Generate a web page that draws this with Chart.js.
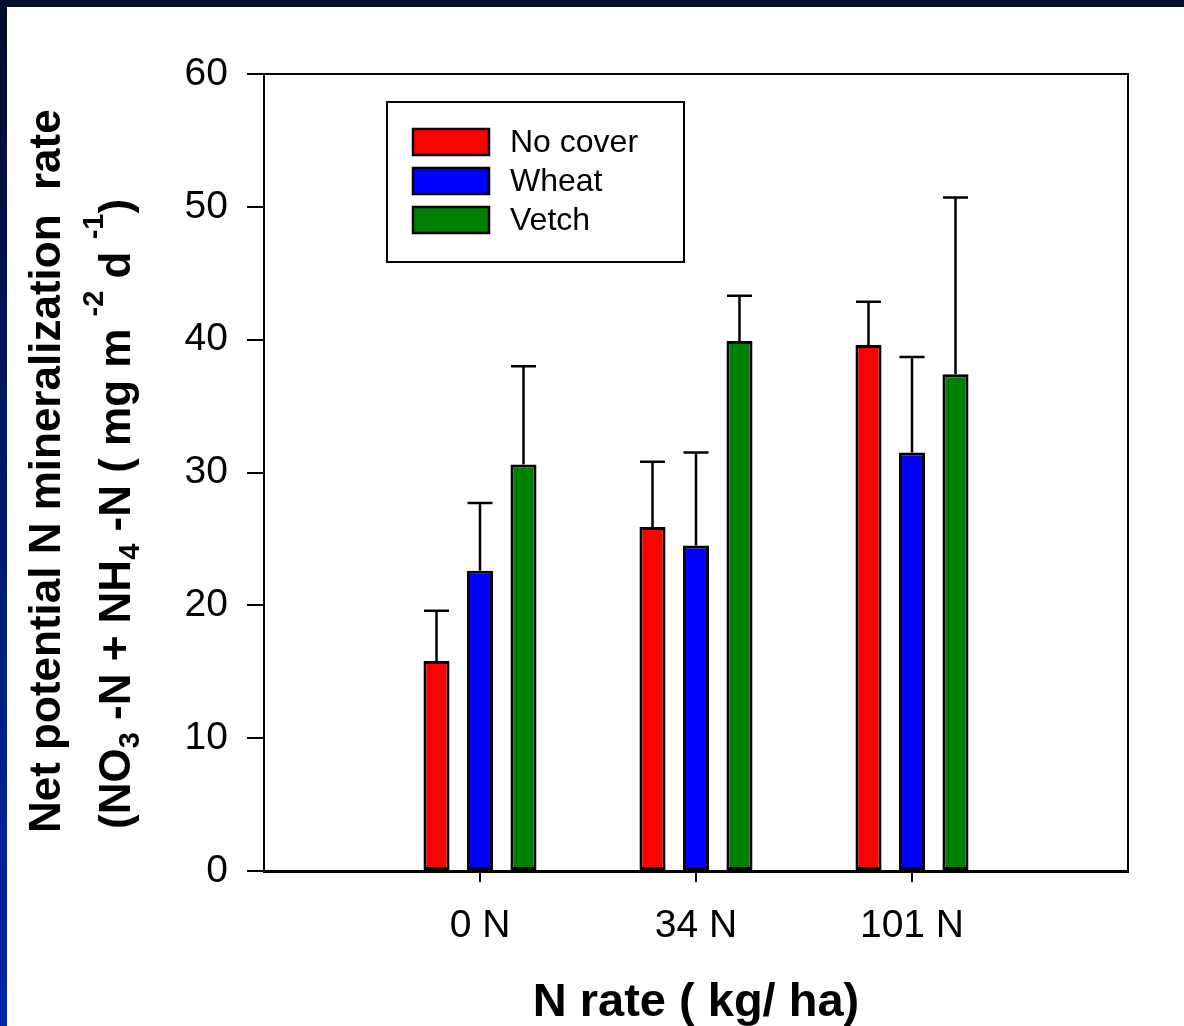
<!DOCTYPE html>
<html><head><meta charset="utf-8">
<script src="https://cdn.jsdelivr.net/npm/chart.js@4.4.1/dist/chart.umd.min.js"></script>
<style>html,body{margin:0;padding:0;background:#fff;overflow:hidden}canvas{display:block}</style>
</head><body>
<canvas id="c" width="1184" height="1026" style="width:1184px;height:1026px"></canvas>
<script>
// ---- data ----
const categories = ['', '0 N', '34 N', '101 N', ''];
const seriesNames = ['No cover', 'Wheat', 'Vetch'];
const noCover    = [null, 15.8, 25.9, 39.6, null];
const wheat      = [null, 22.6, 24.5, 31.5, null];
const vetch      = [null, 30.6, 39.9, 37.4, null];
const noCoverErr = [null, 3.8, 4.9, 3.25, null];
const wheatErr   = [null, 5.1, 7.0, 7.2, null];
const vetchErr   = [null, 7.4, 3.4, 13.3, null];
const yMin = 0, yMax = 60, yStep = 10;
const xTitle = 'N rate ( kg/ ha)';
const yTitleLine1 = 'Net potential N mineralization  rate';
const yTitleLine2 = [['(NO', ''], ['3', 'sub'], [' -N + NH', ''], ['4', 'sub'], [' -N ( mg m ', ''], ['-2', 'sup'], [' d ', ''], ['-1', 'sup'], [')', '']];

const FONT = '"Liberation Sans", Arial, Helvetica, sans-serif';
const colors = ['#ff0000', '#0000ff', '#008000'];

const bgPlugin = {
  id: 'bg',
  beforeDraw(chart) {
    const ctx = chart.ctx;
    ctx.save();
    ctx.fillStyle = '#ffffff';
    ctx.fillRect(0, 0, chart.width, chart.height);
    const g = ctx.createLinearGradient(0, 0, 0, chart.height);
    g.addColorStop(0, '#020c2c');
    g.addColorStop(1, '#0026aa');
    ctx.fillStyle = g;
    ctx.fillRect(0, 0, 7, chart.height);
    ctx.fillStyle = '#010f2b';
    ctx.fillRect(0, 0, chart.width, 7);
    ctx.restore();
  }
};

const framePlugin = {
  id: 'frame',
  afterDraw(chart) {
    const {ctx, chartArea: a} = chart;
    ctx.save();
    ctx.strokeStyle = '#000';
    ctx.lineWidth = 2;
    ctx.beginPath();
    ctx.moveTo(a.left, a.top);
    ctx.lineTo(a.right, a.top);
    ctx.lineTo(a.right, a.bottom);
    ctx.stroke();
    ctx.restore();
  }
};

const errorPlugin = {
  id: 'errbars',
  afterDatasetsDraw(chart) {
    const ctx = chart.ctx;
    const ys = chart.scales.y;
    ctx.save();
    ctx.strokeStyle = '#000';
    ctx.lineWidth = 2.5;
    chart.data.datasets.forEach((ds, i) => {
      const meta = chart.getDatasetMeta(i);
      meta.data.forEach((el, j) => {
        const v = ds.data[j], e = ds.errors[j];
        if (v == null || e == null) return;
        const x = el.x, y0 = el.y, y1 = ys.getPixelForValue(v + e);
        ctx.beginPath();
        ctx.moveTo(x, y0);
        ctx.lineTo(x, y1);
        ctx.moveTo(x - 12.5, y1);
        ctx.lineTo(x + 12.5, y1);
        ctx.stroke();
      });
    });
    ctx.restore();
  }
};

const legendPlugin = {
  id: 'boxlegend',
  afterDraw(chart) {
    const ctx = chart.ctx;
    ctx.save();
    ctx.strokeStyle = '#000';
    ctx.lineWidth = 2;
    ctx.strokeRect(387, 102, 297, 160);
    ctx.font = '32px ' + FONT;
    ctx.textBaseline = 'middle';
    ctx.textAlign = 'left';
    chart.data.datasets.forEach((ds, i) => {
      const y = 128 + 39 * i;
      ctx.fillStyle = ds.backgroundColor;
      ctx.fillRect(412, y, 78, 28);
      ctx.lineWidth = 2.5;
      ctx.strokeRect(413, y + 1, 76, 26);
      ctx.fillStyle = '#000';
      ctx.fillText(ds.label, 510, y + 15);
    });
    ctx.restore();
  }
};

const titlePlugin = {
  id: 'titles',
  afterDraw(chart) {
    const ctx = chart.ctx;
    const a = chart.chartArea;
    ctx.save();
    ctx.fillStyle = '#000';
    // x title
    ctx.font = 'bold 47px ' + FONT;
    ctx.textAlign = 'center';
    ctx.textBaseline = 'alphabetic';
    ctx.fillText(xTitle, (a.left + a.right) / 2, 1016);
    // y title line 1
    ctx.save();
    ctx.translate(60, 833);
    ctx.rotate(-Math.PI / 2);
    ctx.textAlign = 'left';
    ctx.font = 'bold 44px ' + FONT;
    ctx.fillText(yTitleLine1, 0, 0);
    ctx.restore();
    // y title line 2
    ctx.save();
    ctx.translate(130, 829);
    ctx.rotate(-Math.PI / 2);
    ctx.textAlign = 'left';
    let x = 0;
    yTitleLine2.forEach(([t, kind]) => {
      let dy = 0;
      if (kind === 'sub') { ctx.font = 'bold 29px ' + FONT; dy = 9; }
      else if (kind === 'sup') { ctx.font = 'bold 29px ' + FONT; dy = -27; }
      else { ctx.font = 'bold 44px ' + FONT; }
      ctx.fillText(t, x, dy);
      x += ctx.measureText(t).width;
    });
    ctx.restore();
    ctx.restore();
  }
};

const mkDs = (label, data, errors, color) => ({
  label, data, errors,
  backgroundColor: color,
  borderColor: '#000',
  borderWidth: 3,
  borderSkipped: false,
  categoryPercentage: 0.604,
  barPercentage: 0.6
});

new Chart(document.getElementById('c'), {
  type: 'bar',
  data: {
    labels: categories,
    datasets: [
      mkDs(seriesNames[0], noCover, noCoverErr, colors[0]),
      mkDs(seriesNames[1], wheat, wheatErr, colors[1]),
      mkDs(seriesNames[2], vetch, vetchErr, colors[2])
    ]
  },
  options: {
    responsive: false,
    animation: false,
    devicePixelRatio: 1,
    layout: {padding: {top: 74, right: 56, left: 0, bottom: 0}},
    plugins: {legend: {display: false}, tooltip: {enabled: false}, title: {display: false}},
    scales: {
      x: {
        type: 'category',
        offset: false,
        grid: {
          offset: false,
          drawOnChartArea: false,
          drawTicks: true,
          tickLength: 11,
          lineWidth: 2,
          color: (c) => (c.tick && c.tick.label) ? '#000' : 'rgba(0,0,0,0)'
        },
        border: {display: true, color: '#000', width: 3},
        ticks: {font: {size: 39, family: FONT}, color: '#000', padding: 21, maxRotation: 0, autoSkip: false},
        afterFit: (s) => { s.height = 155; }
      },
      y: {
        min: yMin, max: yMax,
        grid: {drawOnChartArea: false, drawTicks: true, tickLength: 17, lineWidth: 2, color: '#000'},
        border: {display: true, color: '#000', width: 2},
        ticks: {stepSize: yStep, font: {size: 39, family: FONT}, color: '#000', padding: 19},
        afterFit: (s) => { s.width = 264; }
      }
    }
  },
  plugins: [bgPlugin, framePlugin, errorPlugin, legendPlugin, titlePlugin]
});
</script>
</body></html>
